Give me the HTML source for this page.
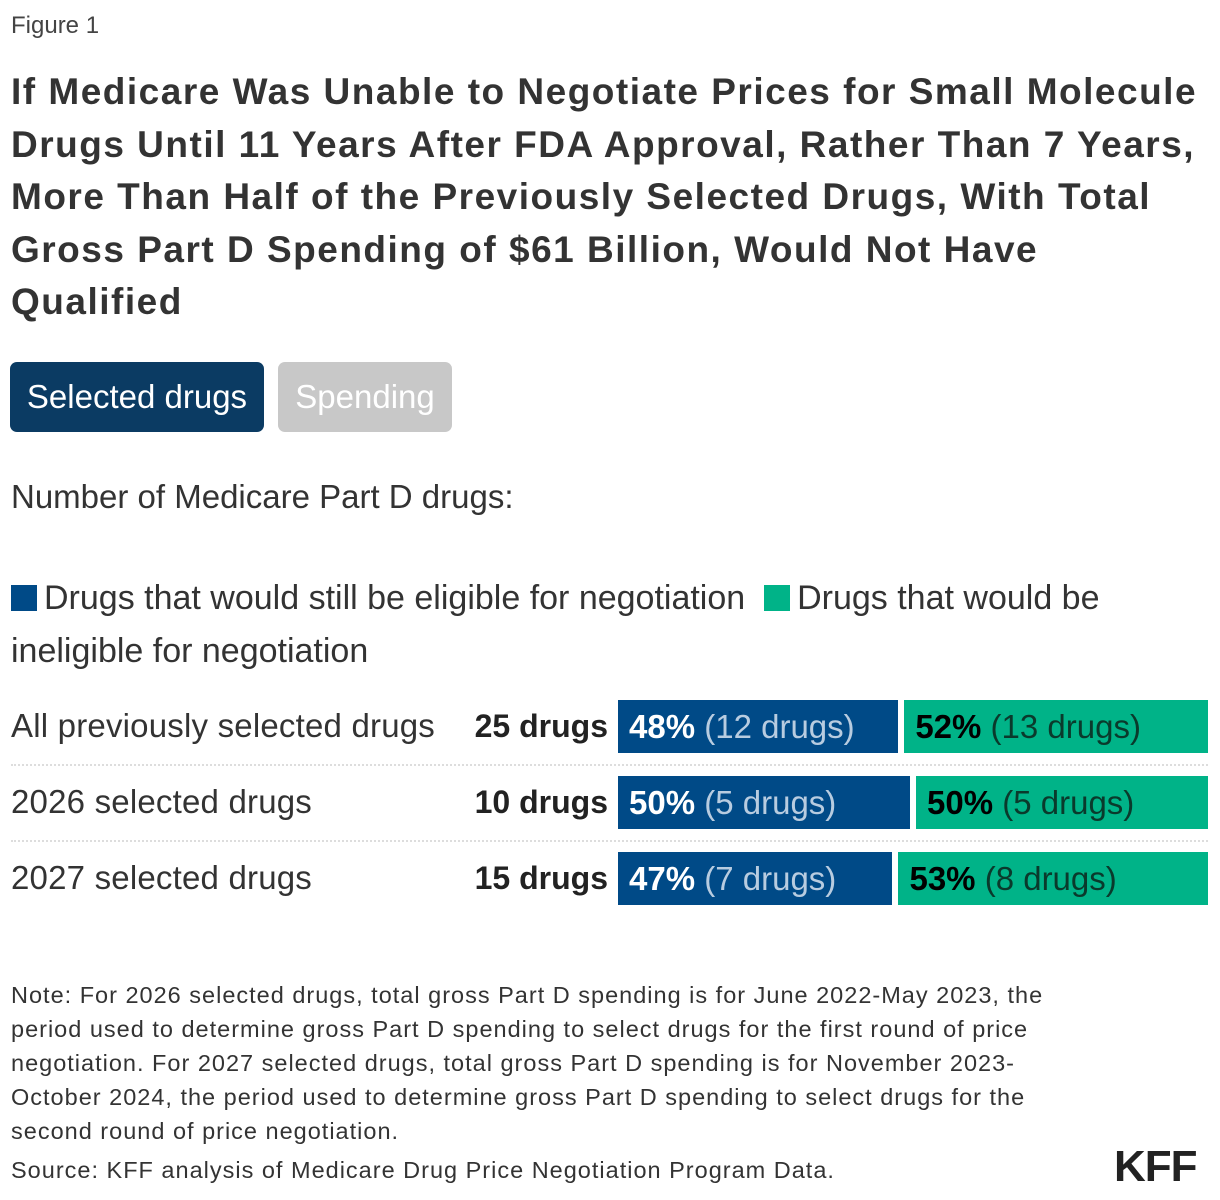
<!DOCTYPE html>
<html><head><meta charset="utf-8">
<style>
body{margin:0;width:1220px;height:1200px;background:#fff;font-family:"Liberation Sans",sans-serif;color:#222;position:relative;overflow:hidden}
.a{position:absolute;white-space:nowrap}
.title{left:11px;top:66px;font-weight:bold;font-size:37px;line-height:52.5px;color:#333;letter-spacing:1.5px}
.btn{top:362px;height:70px;border-radius:7px;font-size:33px;line-height:70px;text-align:center}
.lbl{font-size:33px;color:#333}
.note{left:11px;top:978px;font-size:23.5px;line-height:34px;color:#333;letter-spacing:1px}
</style></head><body>
<div class="a" style="left:11px;top:12px;font-size:24px;color:#444">Figure 1</div>
<div class="a title">If Medicare Was Unable to Negotiate Prices for Small Molecule<br>Drugs Until 11 Years After FDA Approval, Rather Than 7 Years,<br>More Than Half of the Previously Selected Drugs, With Total<br>Gross Part D Spending of $61 Billion, Would Not Have<br>Qualified</div>
<div class="a btn" style="left:10px;width:254px;background:#0b3b63;color:#fff">Selected drugs</div>
<div class="a btn" style="left:278px;width:174px;background:#c8c8c8;color:#fff">Spending</div>
<div class="a lbl" style="left:11px;top:478px">Number of Medicare Part D drugs:</div>
<div class="a" style="left:11px;top:572px;line-height:53px;font-size:34px;color:#333"><span><span style="display:inline-block;width:26px;height:26px;background:#004a87;vertical-align:-2px;margin-right:7px"></span>Drugs that would still be eligible for negotiation</span>&nbsp; <span><span style="display:inline-block;width:26px;height:26px;background:#00b388;vertical-align:-2px;margin-right:7px"></span>Drugs that would be<br>ineligible for negotiation</span></div>
<div id="chart"></div>
<div class="a note">Note: For 2026 selected drugs, total gross Part D spending is for June 2022-May 2023, the<br>period used to determine gross Part D spending to select drugs for the first round of price<br>negotiation. For 2027 selected drugs, total gross Part D spending is for November 2023-<br>October 2024, the period used to determine gross Part D spending to select drugs for the<br>second round of price negotiation.</div>
<div class="a" style="left:11px;top:1157px;font-size:23.5px;color:#333;letter-spacing:1px">Source: KFF analysis of Medicare Drug Price Negotiation Program Data.</div>
<div class="a" style="left:1114px;top:1142px;font-size:44px;font-weight:bold;color:#222;letter-spacing:-1px">KFF</div>
<script>
const categories=["All previously selected drugs","2026 selected drugs","2027 selected drugs"];
const totals=[25,10,15];
const eligiblePct=[48,50,47];
const eligibleN=[12,5,7];
const ineligiblePct=[52,50,53];
const ineligibleN=[13,5,8];
const chart=document.getElementById('chart');
const x0=618,W=590,gap=6,y0=700,rowH=76,barH=53;
function xs(p){return p/100*(W-gap);}
categories.forEach((c,i)=>{
 const y=y0+i*rowH;
 const l=document.createElement('div');l.className='a lbl';l.style.cssText=`left:11px;top:${y+7}px;letter-spacing:0.2px`;l.textContent=c;
 
 
 chart.appendChild(l);
 const t=document.createElement('div');t.className='a lbl';t.style.cssText=`right:${1220-608}px;top:${y+8}px;font-weight:bold;color:#222;font-size:32px`;t.textContent=totals[i]+' drugs';
 
 
 chart.appendChild(t);
 const w1=xs(eligiblePct[i]);
 const b1=document.createElement('div');b1.className='a';b1.style.cssText=`left:${x0}px;top:${y}px;width:${w1}px;height:${barH}px;background:#004a87;font-size:33px;line-height:${barH}px;padding-left:11px;box-sizing:border-box;color:#fff;overflow:hidden`;
 b1.innerHTML=`<b>${eligiblePct[i]}%</b> <span style="color:#b8cce0">(${eligibleN[i]} drugs)</span>`;
 
 
 chart.appendChild(b1);
 const b2=document.createElement('div');b2.className='a';b2.style.cssText=`left:${x0+w1+gap}px;top:${y}px;width:${W-w1-gap}px;height:${barH}px;background:#00b388;font-size:33px;line-height:${barH}px;padding-left:11px;box-sizing:border-box;color:#000;overflow:hidden`;
 b2.innerHTML=`<b>${ineligiblePct[i]}%</b> <span style="color:#0a3a2c">(${ineligibleN[i]} drugs)</span>`;
 
 
 chart.appendChild(b2);
 if(i<categories.length-1){
  const s=document.createElement('div');s.className='a';s.style.cssText=`left:11px;top:${y+barH+11}px;width:1197px;border-top:2px dotted #ddd`;
  
  
  chart.appendChild(s);
 }
});
</script>
</body></html>
